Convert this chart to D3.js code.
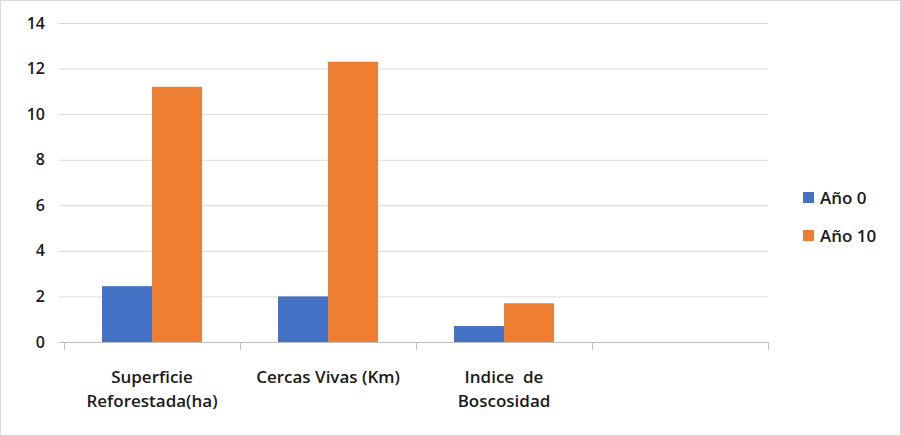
<!DOCTYPE html>
<html>
<head>
<meta charset="utf-8">
<script src="https://cdn.jsdelivr.net/npm/d3@7"></script>
<style>
  body { margin: 0; background: #fff; }
  text { font-family: "Open Sans", "Liberation Sans", sans-serif; font-weight: 600; fill: #1a1a1a; }
</style>
</head>
<body>
<div id="chart"></div>
<script>
// chart data
const categories = [["Superficie", "Reforestada(ha)"], ["Cercas Vivas (Km)"], ["Indice  de", "Boscosidad"], [""]];
const seriesNames = ["Año 0", "Año 10"];
const year0 = [2.45, 2.0, 0.7, null];
const year10 = [11.2, 12.3, 1.7, null];
const yTicks = [0, 2, 4, 6, 8, 10, 12, 14];
const colors = ["#4472c4", "#ed7d31"];

let width = 901, height = 436;
let margin = { left: 64, right: 133, top: 23, bottom: 94 };

let svg = d3.select("#chart").append("svg")
    .attr("width", width)
    .attr("height", height);

// outer border
svg.append("rect")
    .attr("x", 0.5).attr("y", 0.5)
    .attr("width", width - 1).attr("height", height - 1)
    .attr("fill", "none").attr("stroke", "#d9d9d9");

let x = d3.scaleBand()
    .domain(d3.range(categories.length))
    .range([margin.left, width - margin.right]);

let xInner = d3.scaleBand()
    .domain([0, 1])
    .range([0, x.bandwidth()])
    .paddingInner(0)
    .paddingOuter(0.76);

let y = d3.scaleLinear()
    .domain([0, 14])
    .range([height - margin.bottom, margin.top]);

// gridlines
svg.append("g").selectAll("line")
    .data(yTicks.slice(1))
    .join("line")
    .attr("x1", margin.left - 5).attr("x2", width - margin.right)
    .attr("y1", d => y(d) + 0.5).attr("y2", d => y(d) + 0.5)
    .attr("stroke", "#d9d9d9");

// y tick labels
svg.append("g").selectAll("text")
    .data(yTicks)
    .join("text")
    .attr("x", margin.left - 19)
    .attr("y", d => y(d))
    .attr("dy", "0.35em")
    .attr("text-anchor", "end")
    .attr("font-size", 16)
    .text(d => d);

// bars
let series = [year0, year10];
series.forEach((vals, s) => {
    svg.append("g").selectAll("rect")
        .data(vals.map((v, i) => ({ v, i })).filter(d => d.v != null))
        .join("rect")
        .attr("x", d => x(d.i) + xInner(s))
        .attr("width", xInner.bandwidth())
        .attr("y", d => y(d.v))
        .attr("height", d => y(0) - y(d.v))
        .attr("fill", colors[s]);
});

// x axis line and category ticks
svg.append("line")
    .attr("x1", margin.left - 5).attr("x2", width - margin.right)
    .attr("y1", y(0) + 0.5).attr("y2", y(0) + 0.5)
    .attr("stroke", "#bfbfbf");

svg.append("g").selectAll("line")
    .data(d3.range(categories.length + 1))
    .join("line")
    .attr("x1", d => margin.left + d * x.step() + 0.5)
    .attr("x2", d => margin.left + d * x.step() + 0.5)
    .attr("y1", y(0)).attr("y2", y(0) + 8)
    .attr("stroke", "#bfbfbf");

// category labels
categories.forEach((lines, i) => {
    lines.forEach((t, j) => {
        svg.append("text")
            .attr("x", x(i) + x.bandwidth() / 2)
            .attr("y", 383 + j * 24)
            .attr("text-anchor", "middle")
            .attr("font-size", 17)
            .attr("xml:space", "preserve")
            .text(t);
    });
});

// legend
let legend = svg.append("g").attr("transform", "translate(803, 192)");
seriesNames.forEach((name, i) => {
    legend.append("rect")
        .attr("x", 0).attr("y", i * 38)
        .attr("width", 11).attr("height", 11)
        .attr("fill", colors[i]);
    legend.append("text")
        .attr("x", 17).attr("y", i * 38 + 6)
        .attr("dy", "0.35em")
        .attr("font-size", 17)
        .text(name);
});
</script>
</body>
</html>
